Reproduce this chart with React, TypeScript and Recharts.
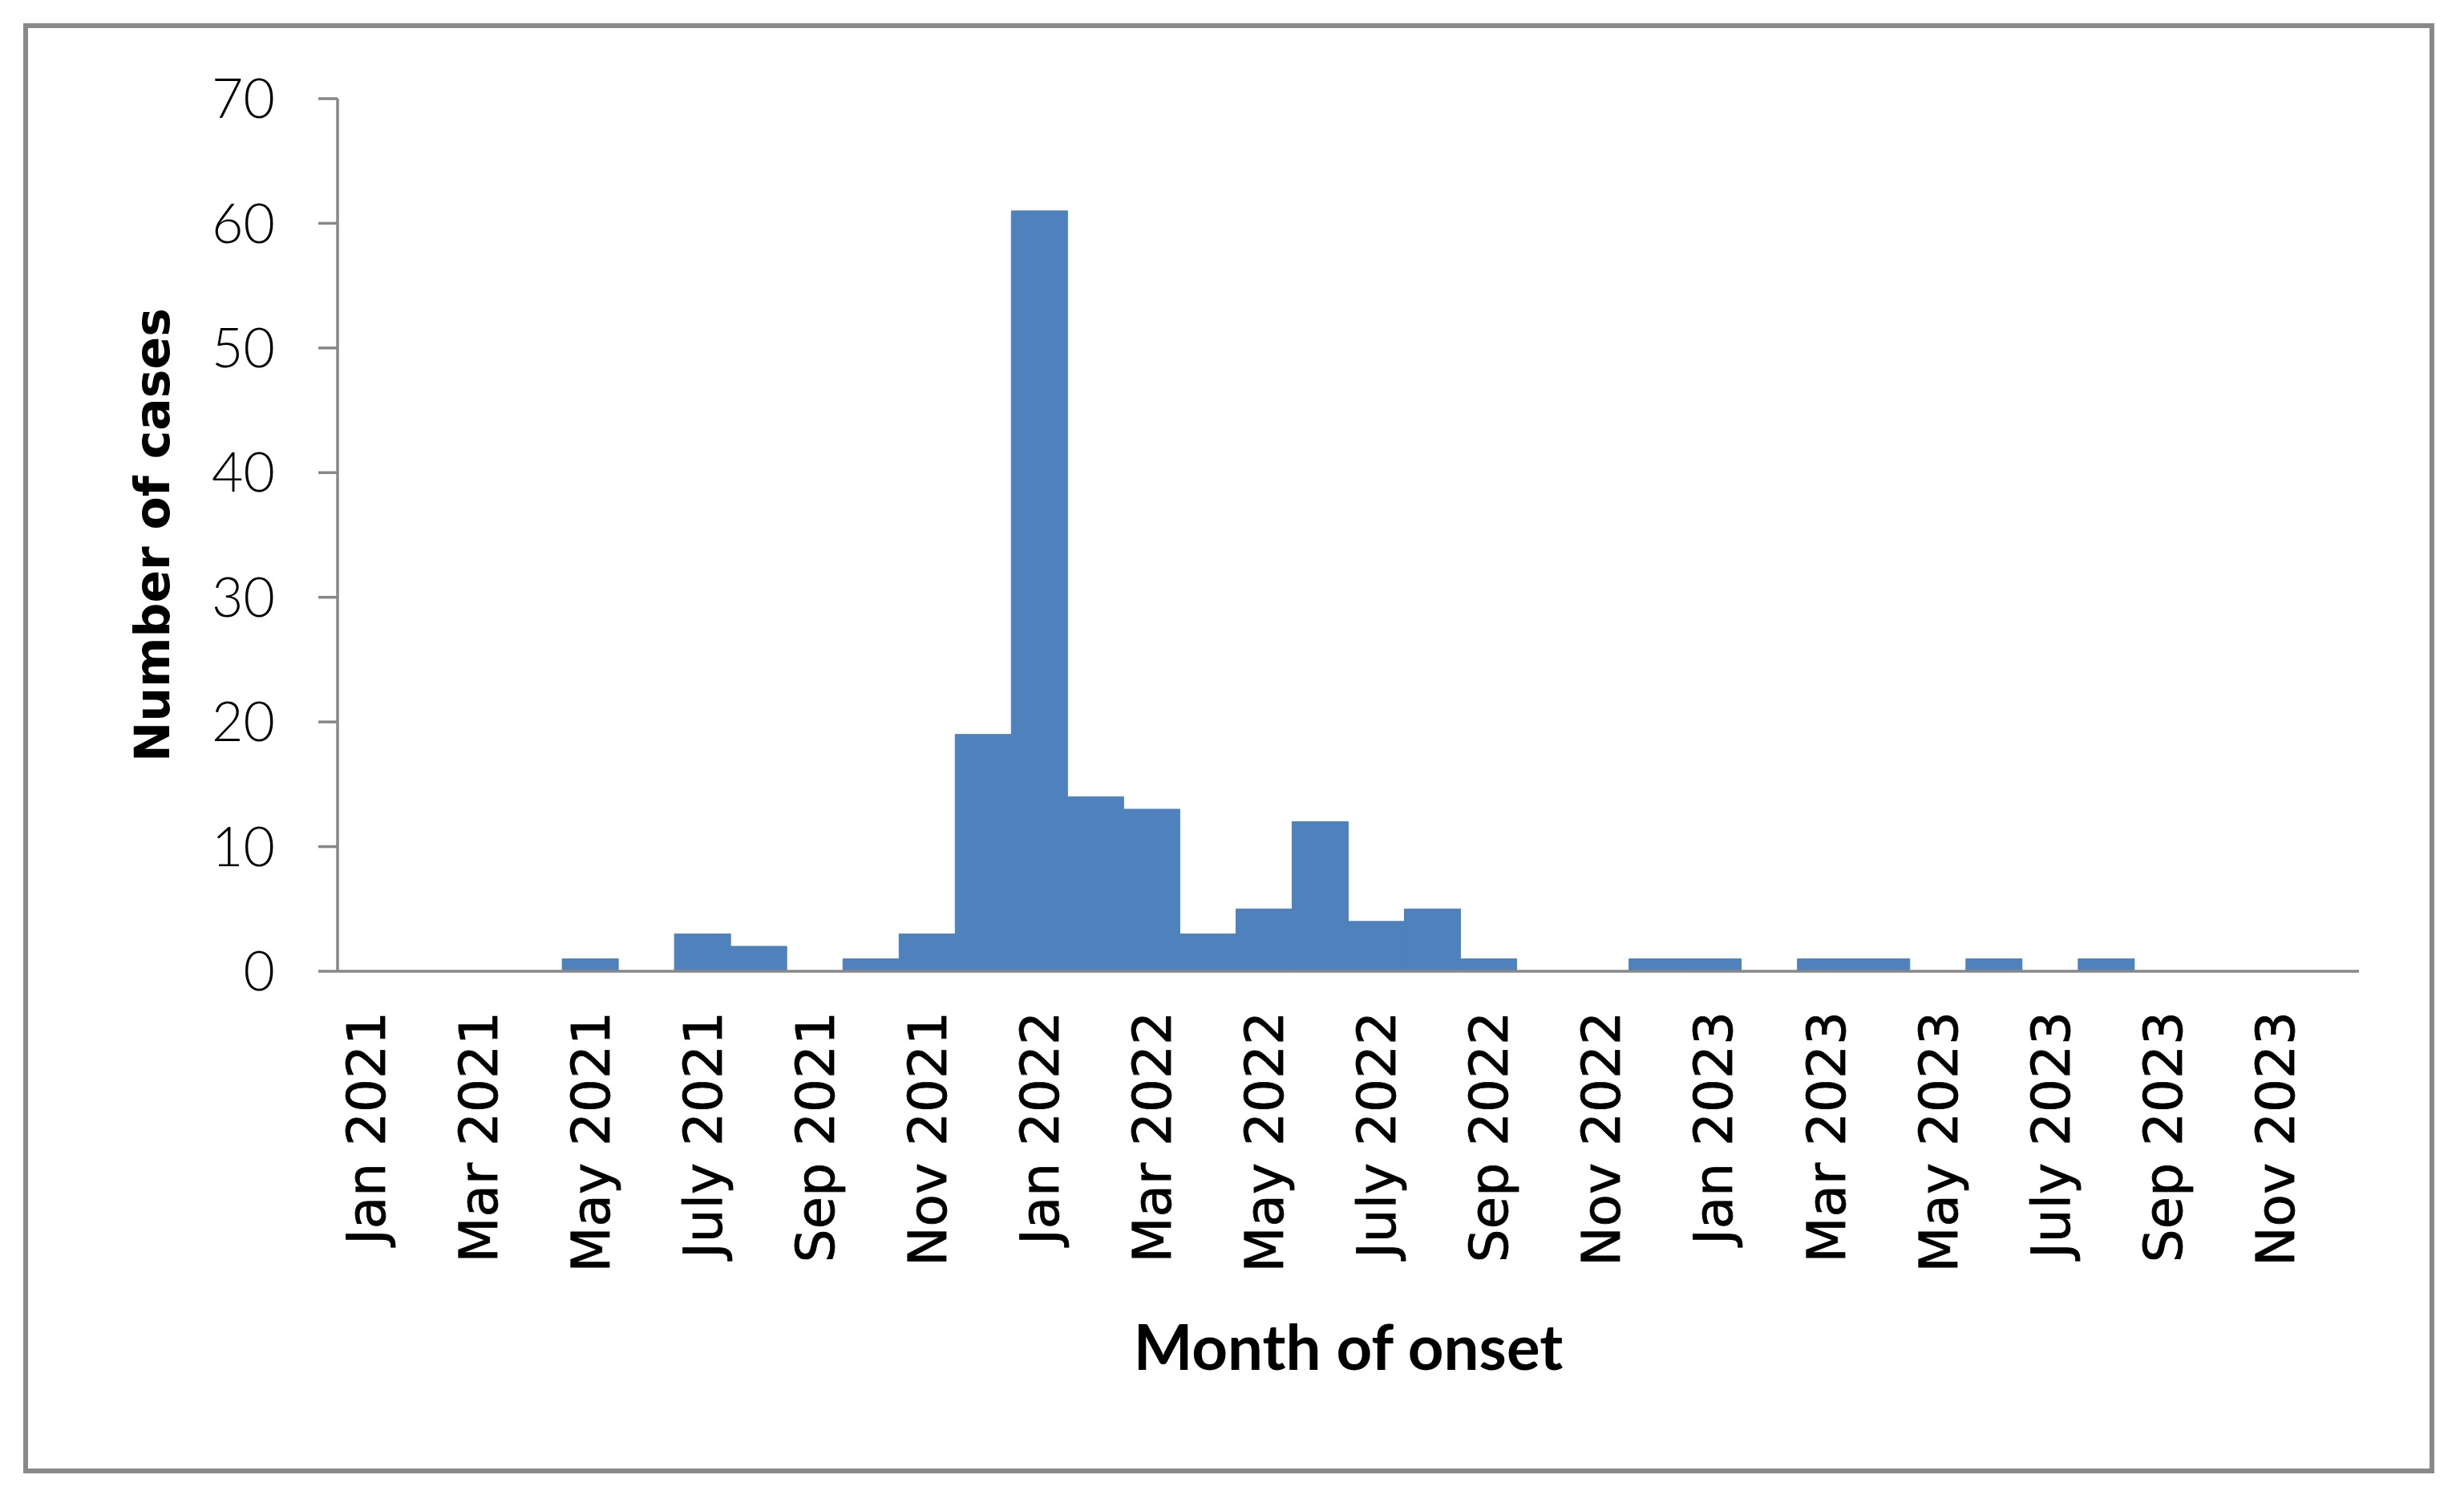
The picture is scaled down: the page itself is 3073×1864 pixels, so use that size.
import React from 'react';
import { BarChart, Bar, XAxis, YAxis, Label } from 'recharts';

const months = [
  'Jan 2021', 'Feb 2021', 'Mar 2021', 'Apr 2021', 'May 2021', 'Jun 2021',
  'July 2021', 'Aug 2021', 'Sep 2021', 'Oct 2021', 'Nov 2021', 'Dec 2021',
  'Jan 2022', 'Feb 2022', 'Mar 2022', 'Apr 2022', 'May 2022', 'Jun 2022',
  'July 2022', 'Aug 2022', 'Sep 2022', 'Oct 2022', 'Nov 2022', 'Dec 2022',
  'Jan 2023', 'Feb 2023', 'Mar 2023', 'Apr 2023', 'May 2023', 'Jun 2023',
  'July 2023', 'Aug 2023', 'Sep 2023', 'Oct 2023', 'Nov 2023', 'Dec 2023',
];

const cases2021 = [0, 0, 0, 0, 1, 0, 3, 2, 0, 1, 3, 19];
const cases2022 = [61, 14, 13, 3, 5, 12, 4, 5, 1, 0, 0, 1];
const cases2023 = [1, 0, 1, 1, 0, 1, 0, 1, 0, 0, 0, 0];

const yTicks = [0, 10, 20, 30, 40, 50, 60, 70];

const allCases = [...cases2021, ...cases2022, ...cases2023];
const data = months.map((month, i) => ({ month, cases: allCases[i] }));

const AXIS_GREY = '#878787';
const BAR_BLUE = '#4F81BD';

const MonthTick = (props: any) => {
  const { x, y, payload } = props;
  return (
    <g transform={`translate(${x},${y})`}>
      <text
        transform="rotate(-90)"
        x={-50}
        y={0}
        dy="0.36em"
        textAnchor="end"
        fill="#000"
        fontFamily="DejaVu Sans"
        fontSize={66}
        stroke="#000"
        strokeWidth={0.8}
      >
        {payload.value}
      </text>
    </g>
  );
};

const YTitle = (props: any) => {
  const { viewBox } = props;
  const cx = viewBox.x + 190;
  const cy = viewBox.y + viewBox.height / 2;
  return (
    <text
      x={cx}
      y={cy}
      transform={`rotate(-90, ${cx}, ${cy})`}
      textAnchor="middle"
      dominantBaseline="central"
      fontFamily="DejaVu Sans"
      fontWeight="bold"
      fontSize={60}
      fill="#000"
    >
      Number of cases
    </text>
  );
};

const XTitle = (props: any) => {
  const { viewBox } = props;
  const cx = viewBox.x + viewBox.width / 2;
  return (
    <text
      x={cx}
      y={viewBox.y + 497}
      textAnchor="middle"
      fontFamily="Lato"
      fontWeight="bold"
      fontSize={78}
      fill="#000"
    >
      Month of onset
    </text>
  );
};

export default function App() {
  return (
    <div style={{ position: 'absolute', left: 0, top: 0, width: 3073, height: 1864, background: '#fff' }}>
      <div
        style={{
          position: 'absolute',
          left: 29,
          top: 29,
          width: 3007,
          height: 1808,
          border: '6px solid #898989',
          boxSizing: 'border-box',
        }}
      />
      <div style={{ position: 'absolute', left: 0, top: 0 }}>
        <BarChart
          width={3073}
          height={1864}
          data={data}
          margin={{ top: 123, right: 131, bottom: 0, left: 0 }}
          barCategoryGap={0}
          barGap={0}
        >
          <XAxis
            dataKey="month"
            interval={1}
            height={653}
            tickLine={false}
            tickSize={0}
            tickMargin={0}
            tick={<MonthTick />}
            axisLine={{ stroke: AXIS_GREY, strokeWidth: 3.5 }}
          >
            <Label content={<XTitle />} />
          </XAxis>
          <YAxis
            width={421}
            domain={[0, 70]}
            ticks={yTicks}
            interval={0}
            tickSize={24}
            tickMargin={54}
            tickLine={{ stroke: AXIS_GREY, strokeWidth: 3.5 }}
            axisLine={{ stroke: AXIS_GREY, strokeWidth: 3.5 }}
            tick={{ fill: '#000', fontFamily: 'Lato', fontWeight: 300, fontSize: 68 }}
          >
            <Label content={<YTitle />} />
          </YAxis>
          <Bar
            dataKey="cases"
            fill={BAR_BLUE}
            stroke={BAR_BLUE}
            strokeWidth={1}
            isAnimationActive={false}
          />
        </BarChart>
      </div>
    </div>
  );
}
